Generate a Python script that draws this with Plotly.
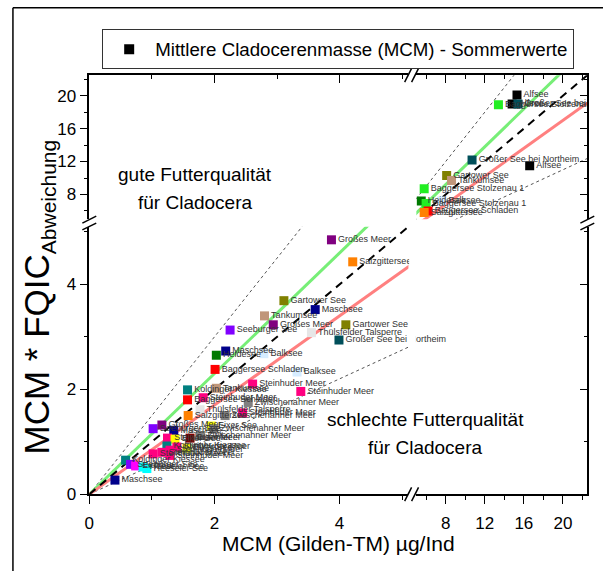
import plotly.graph_objects as go

W, H = 603, 576
FONT = "Liberation Sans, Arial, sans-serif"

# ---- lake colours -------------------------------------------------------
lake_colors = {
    "Alfsee": "#000000",
    "Baggersee Stolzenau 1": "#22ee22",
    "Großer See bei Northeim": "#004f5a",
    "Gartower See": "#808000",
    "Tankumsee": "#c0967a",
    "Heidesee": "#007a00",
    "Balksee": "#d6ecff",
    "Salzgittersee": "#ff8000",
    "Baggersee Schladen": "#ff0000",
    "Großes Meer": "#800080",
    "Maschsee": "#00008b",
    "Seeburger See": "#8000ff",
    "Thülsfelder Talsperre": "#e6e6e6",
    "Steinhuder Meer": "#ff0080",
    "Zwischenahner Meer": "#808080",
    "Koldinger Kiessee": "#008080",
    "Eixer See": "#ffff00",
    "Dümmer": "#800000",
    "Eichsee": "#ff00ff",
    "Heeseler See": "#00ffff",
}

# ---- summer values, lower segment (MCM <= 5) ----------------------------
low_lake = [
    "Großes Meer", "Salzgittersee", "Gartower See", "Maschsee", "Tankumsee",
    "Großes Meer", "Gartower See", "Seeburger See", "Thülsfelder Talsperre",
    "Großer See bei Northeim", "Heidesee", "Maschsee", "Balksee",
    "Baggersee Schladen", "Balksee", "Steinhuder Meer", "Steinhuder Meer",
    "Tankumsee", "Koldinger Kiessee", "Baggersee Schladen", "Steinhuder Meer",
    "Zwischenahner Meer", "Thülsfelder Talsperre", "Salzgittersee",
    "Zwischenahner Meer", "Steinhuder Meer", "Seeburger See", "Großes Meer",
    "Maschsee", "Eixer See", "Zwischenahner Meer", "Zwischenahner Meer",
    "Steinhuder Meer", "Eixer See", "Dümmer", "Koldinger Kiessee",
    "Steinhuder Meer", "Steinhuder Meer", "Steinhuder Meer", "Steinhuder Meer",
    "Steinhuder Meer", "Eixer See", "Koldinger Kiessee", "Seeburger See",
    "Eichsee", "Heeseler See", "Heeseler See", "Maschsee",
]
low_x = [
    3.87, 4.21, 3.11, 3.61, 2.80, 2.94, 4.10, 2.25, 3.55, 3.99, 2.03, 2.18,
    2.79, 2.01, 3.32, 2.61, 3.38, 2.03, 1.57, 1.57, 1.82, 2.54, 1.77, 1.58,
    2.17, 2.45, 1.02, 1.16, 1.35, 1.95, 1.99, 1.78, 1.25, 1.37, 1.61, 1.24,
    1.02, 1.16, 1.29, 1.40, 1.29, 1.56, 0.58, 0.66, 0.74, 0.86, 0.92, 0.41,
]
low_y = [
    4.85, 4.43, 3.69, 3.52, 3.40, 3.23, 3.23, 3.13, 3.08, 2.94, 2.65, 2.73,
    2.68, 2.38, 2.33, 2.10, 1.96, 2.02, 1.99, 1.80, 1.84, 1.75, 1.61, 1.50,
    1.50, 1.55, 1.25, 1.32, 1.22, 1.30, 1.24, 1.12, 1.07, 1.05, 1.07, 0.92,
    0.77, 0.80, 0.84, 0.90, 0.74, 0.88, 0.65, 0.57, 0.54, 0.52, 0.49, 0.27,
]

# ---- summer values, upper segment (MCM > 5) -----------------------------
high_lake = [
    "Alfsee", "Baggersee Stolzenau 1", "Alfsee", "Großer See bei Northeim",
    "Großer See bei Northeim", "Alfsee", "Gartower See", "Tankumsee",
    "Baggersee Stolzenau 1", "Heidesee", "Balksee", "Baggersee Stolzenau 1",
    "Baggersee Schladen", "Salzgittersee",
]
high_x = [15.3, 13.4, 14.8, 15.4, 10.7, 16.6, 8.1, 8.6, 5.8, 5.5, 7.6, 6.0, 6.2, 5.8]
high_y = [20.1, 18.9, 19.0, 19.0, 12.2, 11.5, 10.3, 9.7, 8.7, 7.2, 7.2, 6.9, 6.0, 5.8]

# ---- reference lines y = k * x ------------------------------------------
ref_lines = [
    # (slope, colour, width, dash)
    (1.50, "#555555", 1, "dot"),
    (0.55, "#555555", 1, "dot"),
    (1.15, "#77ee77", 3, "solid"),
    (0.85, "#ff8080", 3, "solid"),
    (1.00, "#000000", 2, "8px,6px"),
]
line_x = [0, 22.5]

# broken axes: two segments per direction
X_LOW, X_HIGH = [0, 5.1], [5, 22.5]
Y_LOW, Y_HIGH = [0, 5.1], [5, 22.5]


def px(v):
    return v / W


def py(v):
    return 1 - v / H


DX1 = [px(85), px(406.8)]
DX2 = [px(414.8), px(587.2)]
DY1 = [py(503), py(230.7)]
DY2 = [py(223), py(76.5)]

fig = go.Figure()

for xa, ya in (("x", "y"), ("x2", "y2")):
    for k, col, wid, dash in ref_lines:
        fig.add_trace(go.Scatter(
            x=line_x, y=[k * v for v in line_x], mode="lines",
            line=dict(color=col, width=wid, dash=dash),
            xaxis=xa, yaxis=ya, showlegend=False, hoverinfo="skip"))

fig.add_trace(go.Scatter(
    x=low_x, y=low_y, mode="markers+text", text=low_lake,
    textposition="middle right",
    textfont=dict(family=FONT, size=9, color="#333333"),
    marker=dict(symbol="square", size=9,
                color=[lake_colors[n] for n in low_lake], line=dict(width=0)),
    cliponaxis=False, xaxis="x", yaxis="y", showlegend=False))

fig.add_trace(go.Scatter(
    x=high_x, y=high_y, mode="markers+text", text=high_lake,
    textposition="middle right",
    textfont=dict(family=FONT, size=9, color="#333333"),
    marker=dict(symbol="square", size=9,
                color=[lake_colors[n] for n in high_lake], line=dict(width=0)),
    cliponaxis=True, xaxis="x2", yaxis="y2", showlegend=False))

# legend entry for the whole series
fig.add_trace(go.Scatter(
    x=[None], y=[None], mode="markers", xaxis="x2", yaxis="y2",
    marker=dict(symbol="square", size=10, color="black"),
    name="Mittlere Cladocerenmasse (MCM) - Sommerwerte"))

# empty traces so the mirrored top/right axes get drawn
for xa, ya in (("x3", "y2"), ("x4", "y2"), ("x2", "y3"), ("x2", "y4")):
    fig.add_trace(go.Scatter(x=[], y=[], xaxis=xa, yaxis=ya, showlegend=False))

tickfont = dict(family=FONT, size=17, color="black")
common = dict(showgrid=False, zeroline=False, showline=True, linecolor="black",
              linewidth=1.5, tickcolor="black", tickwidth=1.2, tickfont=tickfont,
              fixedrange=True)


def ax(rng, dom, anchor, dtick, mdtick, ticks="outside", labels=True, **kw):
    d = dict(range=rng, anchor=anchor, ticks=ticks, ticklen=8, tick0=0,
             dtick=dtick, showticklabels=labels,
             minor=dict(ticks=ticks, ticklen=4, dtick=mdtick, tick0=0,
                        tickcolor="black", tickwidth=1.2),
             **common, **kw)
    if dom is not None:
        d["domain"] = dom
    return d


fig.update_layout(
    width=W, height=H, margin=dict(l=0, r=0, t=0, b=0),
    paper_bgcolor="white", plot_bgcolor="white",
    font=dict(family=FONT, color="black"),
    xaxis=ax(X_LOW, DX1, "y", 2, 1, ticklabelstandoff=5),
    xaxis2=ax(X_HIGH, DX2, "y", 4, 2, ticklabelstandoff=5),
    yaxis=ax(Y_LOW, DY1, "x", 2, 1),
    yaxis2=ax(Y_HIGH, DY2, "x", 4, 2),
    xaxis3=ax(X_LOW, None, "y2", 2, 1, ticks="inside", labels=False,
              overlaying="x", side="top"),
    xaxis4=ax(X_HIGH, None, "y2", 4, 2, ticks="inside", labels=False,
              overlaying="x2", side="top"),
    yaxis3=ax(Y_LOW, None, "x2", 2, 1, ticks="inside", labels=False,
              overlaying="y", side="right"),
    yaxis4=ax(Y_HIGH, None, "x2", 4, 2, ticks="inside", labels=False,
              overlaying="y2", side="right"),
    legend=dict(x=px(98), y=py(30), xanchor="left", yanchor="top",
                bgcolor="white", bordercolor="#333333", borderwidth=1,
                font=dict(family=FONT, size=18.7, color="black"), itemwidth=42),
)

shapes = []
# white band hiding the gap between the x segments
shapes.append(dict(type="rect", xref="paper", yref="paper",
                   x0=px(407.5), x1=px(414.3), y0=py(500), y1=py(80),
                   fillcolor="white", line=dict(width=0), layer="above"))


def slash(cx, cy, dx, dy):
    return dict(type="line", xref="paper", yref="paper",
                x0=px(cx - dx), y0=py(cy + dy), x1=px(cx + dx), y1=py(cy - dy),
                line=dict(color="black", width=1.5), layer="above")


for yy in (503, 76.5):
    shapes.append(slash(406.5, yy, 3.5, 7))
    shapes.append(slash(413.5, yy, 3.5, 7))
for xx in (85, 587.2):
    shapes.append(slash(xx, 230.5, 7, 3.5))
    shapes.append(slash(xx, 223.5, 7, 3.5))
# outer frame
shapes.append(dict(type="line", xref="paper", yref="paper",
                   x0=px(8), y0=py(8), x1=px(W + 5), y1=py(8),
                   line=dict(color="black", width=1.5)))
shapes.append(dict(type="line", xref="paper", yref="paper",
                   x0=px(8), y0=py(8), x1=px(8), y1=py(H + 5),
                   line=dict(color="black", width=1.5)))
fig.update_layout(shapes=shapes)


def note(text, x, y, size, angle=0):
    return dict(text=text, x=px(x), y=py(y), xref="paper", yref="paper",
                showarrow=False, xanchor="center", yanchor="middle",
                textangle=angle, font=dict(family=FONT, size=size, color="black"))


fig.update_layout(annotations=[
    note("gute Futterqualität", 192, 178, 19),
    note("für Cladocera", 192, 206, 19),
    note("schlechte Futterqualität", 424, 427, 19),
    note("für Cladocera", 424, 455, 19),
    note("MCM (Gilden-TM) µg/Ind", 336, 553, 21),
    note("MCM * FQIC<sub><span style='font-size:21px'>Abweichung</span></sub>",
         34, 302, 35, angle=-90),
])

fig.write_html("out.html")
